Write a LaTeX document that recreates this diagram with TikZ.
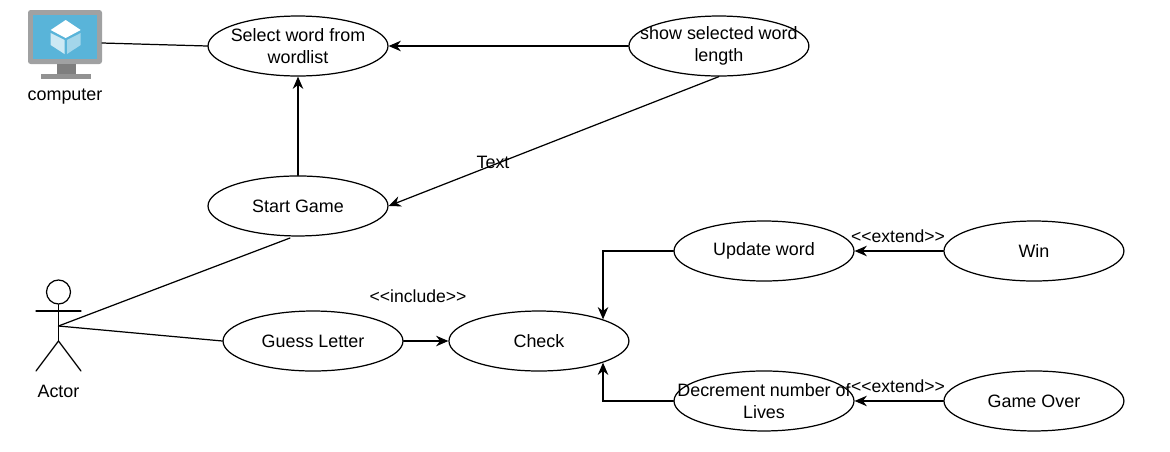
\documentclass[tikz,border=0pt]{standalone}
\usepackage{fontspec}
\setmainfont{Liberation Sans}
\usetikzlibrary{arrows.meta,shapes.geometric}
\tikzset{
	usecase/.style={draw,ellipse,inner sep=-0.6cm,minimum width=3.6cm,minimum height=1.2cm,align=center,font=\fontsize{10.2}{12.2}\selectfont},
	lbl/.style={font=\fontsize{10.2}{12}\selectfont},
	stereo/.style={font=\fontsize{10}{12}\selectfont},
	flow/.style={-{Stealth[length=7pt,width=6pt]}}
}
\definecolor{screenblue}{HTML}{59B4D9}
\definecolor{framegray}{HTML}{A0A1A2}
\definecolor{standgray}{HTML}{7F7F7F}
\begin{document}
\begin{tikzpicture}[x=0.02cm,y=-0.02cm,line width=0.7pt,line cap=round]
	\useasboundingbox (0,0) rectangle (1170,451);

	\node(select) [usecase] at (298,46) {Select word from\\wordlist};
	\node(start) [usecase,below of=select,node distance=3.2cm] {Start Game};
	\node(show) [usecase,right of=select,node distance=8.42cm] {show selected word\\length};
	\node(guess) [usecase] at (313,341) {Guess Letter};
	\node(check) [usecase,right of=guess,node distance=4.52cm] {Check};
	\node(update) [usecase] at (764,251) {Update word};
	\node(win) [usecase,right of=update,node distance=5.4cm] {Win};
	\node(decrement) [usecase,below of=update,node distance=3cm] {Decrement number of\\Lives};
	\node(gameover) [usecase,right of=decrement,node distance=5.4cm] {Game Over};

	\fill[framegray,rounded corners=1.5pt] (28,10) rectangle (102,64);
	\fill[screenblue] (33,15) rectangle (97,59);
	\fill[standgray] (57,64) rectangle (76,75);
	\fill[standgray!85] (41,74) rectangle (91,79);
	\fill[white] (65.7,20) -- (80.7,30) -- (65.7,38) -- (50.7,30) -- cycle;
	\fill[white!70!screenblue] (50.7,33) -- (64.5,40) -- (64.5,54) -- (50.7,45) -- cycle;
	\fill[white!45!screenblue] (67,40) -- (80.7,33) -- (80.7,45) -- (67,54) -- cycle;
	\node(computer) [lbl] at (65,97) {computer};
	\coordinate(port) at (102,43);

	\node(head) [draw,circle,inner sep=0pt,minimum size=0.48cm] at (58.5,292) {};
	\coordinate(hip) at (58.5,326);
	\coordinate(crotch) at (58.5,341);
	\coordinate(handl) at (36,311);
	\coordinate(handr) at (81,311);
	\coordinate(footl) at (36,371);
	\coordinate(footr) at (81,371);
	\node(actor) [lbl] at (58.5,391) {Actor};
	\draw(head) -- (crotch);
	\draw(handl) -- (handr);
	\draw(footl) -- (crotch) -- (footr);

	\coordinate(startend) at (290,238);

	\draw(port) -- (select.west);
	\draw[flow](show.west) -- (select.east);
	\draw[flow](start.north) -- (select.south);
	\draw[flow](show.south) -- (start.east);
	\draw(hip) -- (startend);
	\draw(hip) -- (guess.west);
	\draw[flow](guess.east) -- (check.west);
	\draw[flow](update.west) -| (check.north east);
	\draw[flow](decrement.west) -| (check.south east);
	\draw[flow](win.west) -- (update.east);
	\draw[flow](gameover.west) -- (decrement.east);

	\node(text) [lbl] at (493,162) {Text};
	\node(include) [stereo] at (418,296) {{<}{<}include{>}{>}};
	\node(extendw) [stereo] at (898,236) {{<}{<}extend{>}{>}};
	\node(extendg) [stereo] at (898,386) {{<}{<}extend{>}{>}};
\end{tikzpicture}
\end{document}
